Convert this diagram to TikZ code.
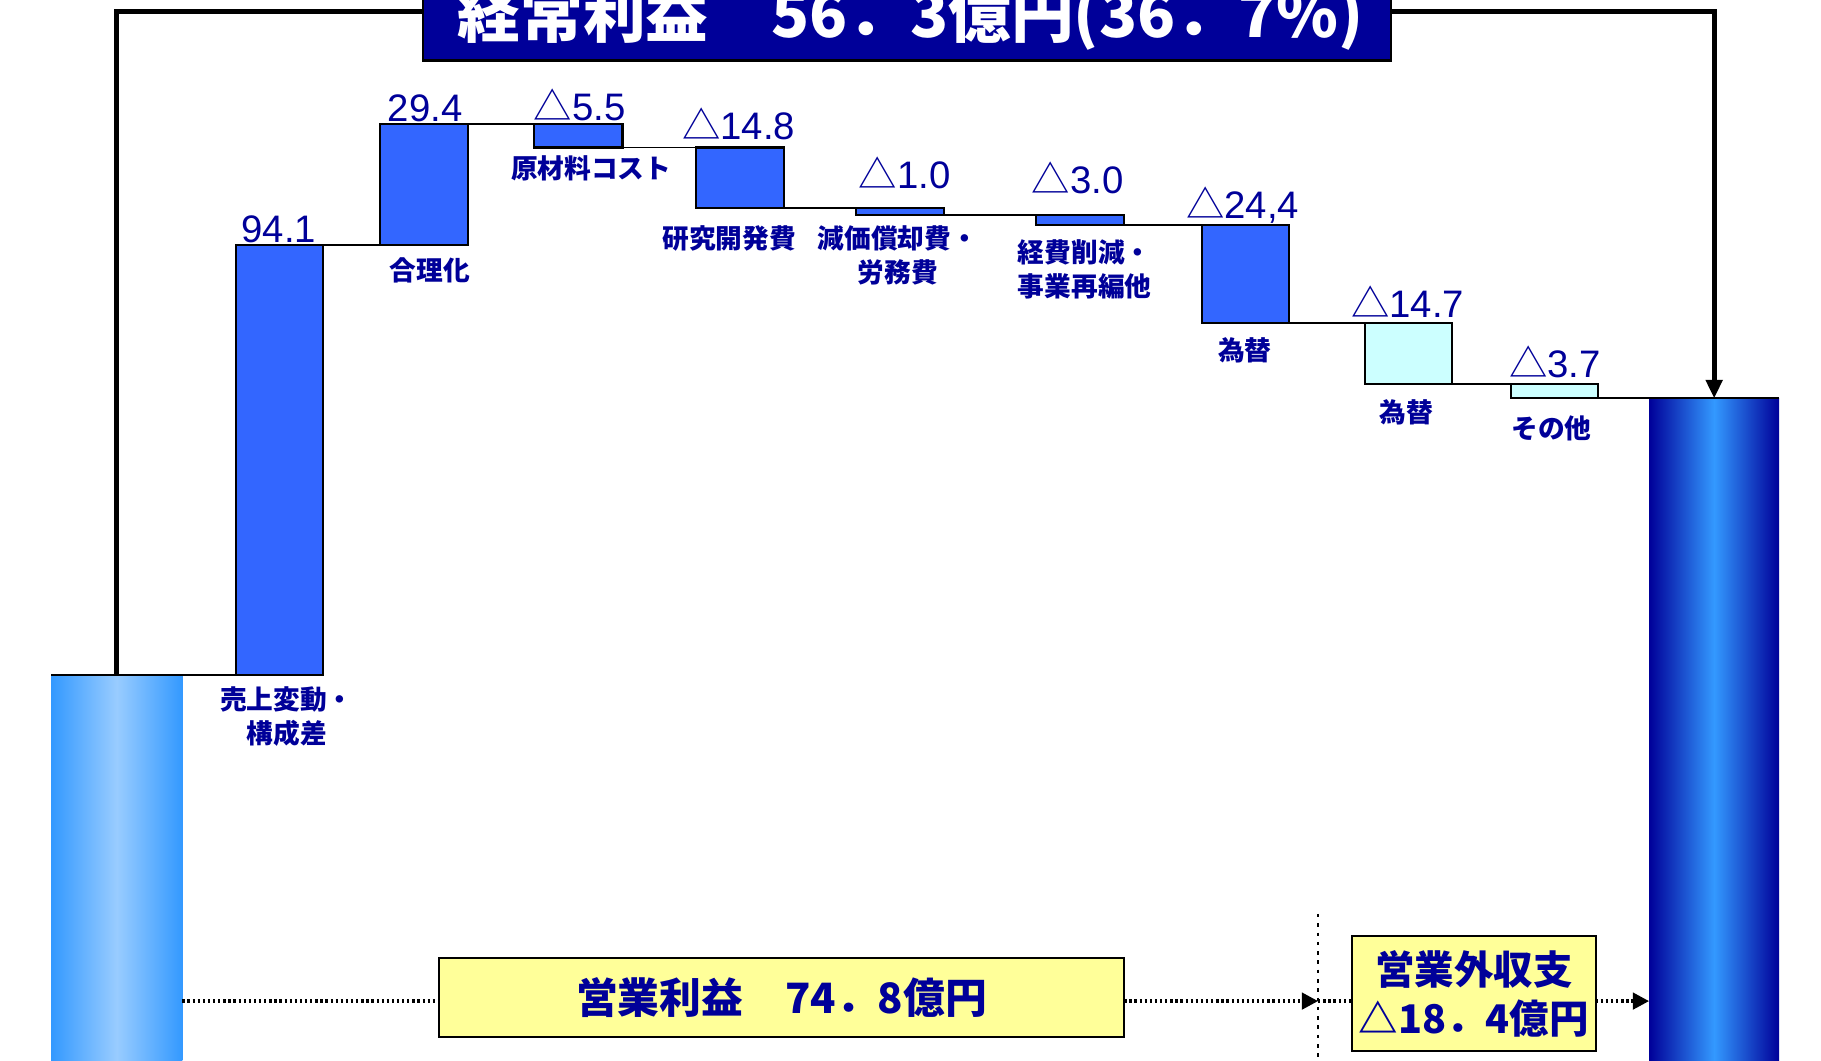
\documentclass[tikz,border=0pt]{standalone}
\usepackage{fontspec}
\setmainfont{Liberation Sans}
\newfontfamily\jp{Noto Sans CJK JP}
\usetikzlibrary{arrows.meta,calc}
\definecolor{navy}{HTML}{000099}
\definecolor{barblue}{HTML}{3366FF}
\definecolor{cyanlt}{HTML}{CCFFFF}
\definecolor{yel}{HTML}{FFFF99}
\definecolor{skyedge}{HTML}{3399FF}
\definecolor{skymid}{HTML}{99CCFF}
\newcommand\tri{{\jp △}}
\begin{document}
\begin{tikzpicture}[x=0.5pt,y=-0.5pt,
  bar/.style={draw=black,line width=0.9pt,fill=barblue,anchor=north west,inner sep=0,outer sep=0},
  cbar/.style={bar,fill=cyanlt},
  val/.style={text=navy,anchor=base,inner sep=0,font=\fontsize{16.5}{18}\selectfont},
  cat/.style={text=navy,align=center,inner sep=0,font=\jp\bfseries\fontsize{11.5}{14.5}\selectfont},
  conn/.style={draw=black,line width=0.8pt},
  loopline/.style={draw=black,line width=2pt},
  dots/.style={draw=black,line width=1.6pt,dash pattern=on 1pt off 1.2pt},
  vdots/.style={draw=black,line width=1pt,dash pattern=on 1.5pt off 2.5pt},
  tip/.style={-{Triangle[length=7pt,width=7pt]}},
  ybox/.style={draw=black,line width=1pt,fill=yel,inner sep=0,outer sep=0,text=navy,align=center}
]
\useasboundingbox (0,0) rectangle (1568,913);
\clip (0,0) rectangle (1568,913);
\fill[white] (0,0) rectangle (1568,913);

% big bars
\node[anchor=north west,inner sep=0,outer sep=0,minimum width=56.5pt,minimum height=172pt,
  left color=skyedge,right color=skyedge,middle color=skymid] (L) at (44,581) {};
\node[anchor=north west,inner sep=0,outer sep=0,minimum width=56pt,minimum height=290pt,
  left color=navy,right color=navy,middle color=skyedge] (R) at (1420,343) {};

% loop line and title
\coordinate (tl) at (100,10);
\draw[loopline,-{Triangle[length=8pt,width=7pt]}] (L.north) |- (R.north |- tl) -- (R.north);
\node[draw=black,line width=1pt,fill=navy,anchor=south west,inner sep=0,outer sep=0,
  minimum width=417pt,minimum height=40pt] (T) at (364,52) {};
\node[text=white,anchor=base,inner sep=0,font=\jp\bfseries\fontsize{27}{30}\selectfont] (Tt) at (784,32)
  {経常利益　56．3億円(36．7\%)};

% waterfall bars
\node[bar,minimum width=37.5pt,minimum height=185pt] (b1) at (203,211) {};
\node[bar,minimum width=38pt,minimum height=52pt] (b2) at (327,107) {};
\node[bar,minimum width=38pt,minimum height=10pt] (b3) at (460,107) {};
\node[bar,minimum width=38pt,minimum height=26pt] (b4) at (599,127) {};
\node[bar,minimum width=38pt,minimum height=3pt] (b5) at (737,179) {};
\node[bar,minimum width=38pt,minimum height=4.5pt] (b6) at (892,185) {};
\node[bar,minimum width=37.5pt,minimum height=42pt] (b7) at (1035,194) {};
\node[cbar,minimum width=37.5pt,minimum height=26.5pt] (b8) at (1175,278) {};
\node[cbar,minimum width=37.5pt,minimum height=6pt] (b9) at (1301,331) {};

% connectors between bars
\draw[conn] (L.north west) -- (b1.south west);
\draw[conn] (b1.north east) -- (b2.south west);
\draw[conn] (b2.north east) -- (b3.north west);
\draw[conn] (b3.south east) -- (b4.north west);
\draw[conn] (b4.south east) -- (b5.north west);
\draw[conn] (b5.south east) -- (b6.north west);
\draw[conn] (b6.south east) -- (b7.north west);
\draw[conn] (b7.south east) -- (b8.north west);
\draw[conn] (b8.south east) -- (b9.north west);
\draw[conn] (b9.south east) -- (R.north east);

% values
\node[val] (v1) at (240,209) {94.1};
\node[val] (v2) at (366,105) {29.4};
\node[val] (v3) at (499,104) {\tri5.5};
\node[val] (v4) at (636,120) {\tri14.8};
\node[val] (v5) at (779,162) {\tri1.0};
\node[val] (v6) at (928,167) {\tri3.0};
\node[val] (v7) at (1070,188) {\tri24,4};
\node[val] (v8) at (1212,273) {\tri14.7};
\node[val] (v9) at (1339,325) {\tri3.7};

% category labels
\node[cat] (c1) at (247,617) {売上変動・\\構成差};
\node[cat] (c2) at (370,233) {合理化};
\node[cat] (c3) at (509,145) {原材料コスト};
\node[cat] (c4) at (628,205) {研究開発費};
\node[cat] (c5) at (773,220) {減価償却費・\\労務費};
\node[cat] (c6) at (934,232) {経費削減・\\事業再編他};
\node[cat] (c7) at (1072,302) {為替};
\node[cat] (c8) at (1211,355) {為替};
\node[cat] (c9) at (1336,369) {その他};

% bottom part
\node[ybox,minimum width=295pt,minimum height=34pt,font=\jp\bfseries\fontsize{18}{20}\selectfont] (B1) at (673,859) {営業利益　74．8億円};
\node[ybox,minimum width=105pt,minimum height=49.5pt,font=\jp\bfseries\fontsize{17}{21}\selectfont] (B2) at (1269,855.5) {営業外収支\\\tri18．4億円};
\coordinate (yl) at (0,862);
\coordinate (vt) at (1135,787);
\coordinate (vb) at (1135,925);
\draw[vdots] (vt) -- (vb);
\draw[dots] (L.east |- yl) -- (B1.west |- yl);
\draw[dots,tip] (B1.east |- yl) -- (vt |- yl);
\draw[dots] (vt |- yl) -- (B2.west |- yl);
\draw[dots,tip] (B2.east |- yl) -- (R.west |- yl);
\end{tikzpicture}
\end{document}
